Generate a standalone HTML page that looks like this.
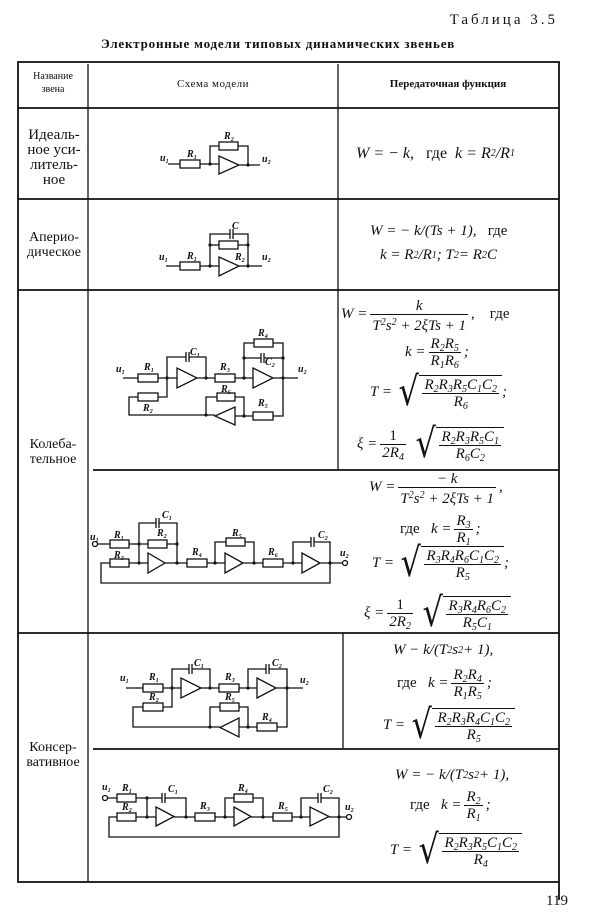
<!DOCTYPE html>
<html><head><meta charset="utf-8"><style>
body{margin:0;background:#fff;}
#p{position:relative;width:600px;height:924px;overflow:hidden;font-family:"Liberation Serif",serif;color:#111;}
.t{position:absolute;white-space:nowrap;}
.c{text-align:center;transform:translateX(-50%);}
.fm{position:absolute;height:33px;display:flex;align-items:center;white-space:nowrap;font-size:15px;font-style:italic;}
.fr{display:inline-flex;flex-direction:column;text-align:center;vertical-align:middle;margin:0 3px;}
.fr>span{line-height:16px;height:16px;padding:0 2px;}
.fr>.n{border-bottom:1px solid #111;}
.up{font-style:normal;}
.sq{font-style:normal;font-size:40px;line-height:33px;transform:scaleX(0.8);display:inline-block;margin:0 -2px 0 4px;font-family:"DejaVu Serif",serif;}
.rad{border-top:1px solid #111;padding-top:1px;display:inline-flex;}
sub{font-size:10px;vertical-align:-3px;}
sup{font-size:10px;vertical-align:5px;}
svg text{font-family:"Liberation Serif",serif;font-style:italic;font-weight:bold;font-size:10px;}
</style></head><body><div id="p">
<div class="t" style="right:42px;top:12px;font-size:15px;letter-spacing:3px;">Таблица 3.5</div>
<div class="t c" style="left:278px;top:36px;font-size:13px;font-weight:bold;letter-spacing:0.8px;">Электронные модели типовых динамических звеньев</div>

<div class="t c" style="left:53px;top:70px;font-size:10px;line-height:13px;">Название<br>звена</div>
<div class="t c" style="left:213px;top:78px;font-size:11px;letter-spacing:0.5px;">Схема модели</div>
<div class="t c" style="left:448px;top:78px;font-size:11px;font-weight:bold;">Передаточная функция</div>

<div class="t c" style="left:54px;top:128px;font-size:15px;line-height:15px;">Идеаль-<br>ное уси-<br>литель-<br>ное</div>
<div class="t c" style="left:54px;top:230px;font-size:14px;line-height:15px;">Апериo-<br>дическое</div>
<div class="t c" style="left:53px;top:437px;font-size:14px;line-height:15px;">Колеба-<br>тельное</div>
<div class="t c" style="left:53px;top:740px;font-size:14px;line-height:15px;">Консер-<br>вативное</div>
<div class="t" style="left:546px;top:893px;font-size:15px;">119</div>

<svg width="600" height="924" style="position:absolute;left:0;top:0" fill="none" stroke="#111" stroke-width="1.3">
<g stroke-width="1.8">
<rect x="18" y="62" width="541" height="820"/>
<line x1="18" y1="108" x2="559" y2="108"/>
<line x1="18" y1="199" x2="559" y2="199"/>
<line x1="18" y1="290" x2="559" y2="290"/>
<line x1="93" y1="470" x2="559" y2="470"/>
<line x1="18" y1="633" x2="559" y2="633"/>
<line x1="93" y1="749" x2="559" y2="749"/>
<line x1="559" y1="882" x2="559" y2="900"/>
</g>
<line x1="88" y1="64" x2="88" y2="882"/>
<line x1="338" y1="64" x2="338" y2="470"/>
<line x1="343" y1="633" x2="343" y2="748"/>

<path d="M168 164H180M200 164H219M239 165H260M210 164V146H219M238 146H248V165"/>
<rect x="180" y="160" width="20" height="8"/><rect x="219" y="142" width="19" height="8"/>
<polygon points="219,156 219,174 239,165"/>
<path d="M166 266H180M200 266H219M239 266H262M210 266V234H230M233 234H248V266M230 229V239M233 229V239M210 245H219M238 245H248"/>
<rect x="180" y="262" width="20" height="8"/><rect x="219" y="241" width="19" height="8"/>
<polygon points="219,257 219,276 239,266"/>
<path d="M123 378H138M158 378H177M197 378H215M235 378H253M273 378H298M167 378V357H186M189 357H206V378M186 352V362M189 352V362M244 378V343H254M273 343H283V378M244 358H261M264 358H283M261 353V363M264 353V363M167 378V397H158M138 397H129V415H215M206 415V397H217M235 397H244V416H235M244 416H253M273 416H283V378"/>
<rect x="138" y="374" width="20" height="8"/><rect x="215" y="374" width="20" height="8"/><rect x="254" y="339" width="19" height="8"/><rect x="138" y="393" width="20" height="8"/><rect x="217" y="393" width="18" height="8"/><rect x="253" y="412" width="20" height="8"/>
<polygon points="177,368 177,388 197,378"/><polygon points="253,368 253,388 273,378"/><polygon points="235,407 235,425 215,416"/>
<circle cx="95" cy="544" r="2.5"/><circle cx="345" cy="563" r="2.5"/>
<path d="M97.5 544H110M129 544H148M167 544H177V563M139 544V523H156M159 523H177V544M156 518V528M159 518V528M139 544V563H148M165 563H187M207 563H225M243 563H263M283 563H302M320 563H342.5M110 563H101V583H330V563M215 563V542H226M245 542H254V563M293 563V542H311M314 542H330V563M311 537V547M314 537V547M129 563H139"/>
<rect x="110" y="540" width="19" height="8"/><rect x="148" y="540" width="19" height="8"/><rect x="110" y="559" width="19" height="8"/><rect x="187" y="559" width="20" height="8"/><rect x="263" y="559" width="20" height="8"/><rect x="226" y="538" width="19" height="8"/>
<polygon points="148,553 148,573 165,563"/><polygon points="225,553 225,573 243,563"/><polygon points="302,553 302,573 320,563"/>
<path d="M126 688H143M163 688H181M201 688H219M239 688H257M276 688H303M172 688V669H189M192 669H210V688M189 664V674M192 664V674M248 688V669H266M269 669H287V688M266 664V674M269 664V674M172 688V707H163M143 707H133V727H220M210 727V707H220M239 707H248V727H239M248 727H257M277 727H287V688"/>
<rect x="143" y="684" width="20" height="8"/><rect x="219" y="684" width="20" height="8"/><rect x="143" y="703" width="20" height="8"/><rect x="220" y="703" width="19" height="8"/><rect x="257" y="723" width="20" height="8"/>
<polygon points="181,678 181,698 201,688"/><polygon points="257,678 257,698 276,688"/><polygon points="239,718 239,737 220,727.5"/>
<circle cx="105" cy="798" r="2.5"/><circle cx="349" cy="817" r="2.5"/>
<path d="M107.5 798H117M136 798H162M165 798H186V817M162 793V803M165 793V803M147 798V817M339 817V837H109V817H117M136 817H156M174 817H195M215 817H234M251 817H273M292 817H310M329 817H346.5M225 817V798H234M253 798H263V817M301 817V798H318M321 798H339V817M318 793V803M321 793V803"/>
<rect x="117" y="794" width="19" height="8"/><rect x="117" y="813" width="19" height="8"/><rect x="195" y="813" width="20" height="8"/><rect x="234" y="794" width="19" height="8"/><rect x="273" y="813" width="19" height="8"/>
<polygon points="156,807 156,826 174,816.5"/><polygon points="234,807 234,826 251,816.5"/><polygon points="310,807 310,826 329,816.5"/>
<g fill="#111" stroke="none">
<circle cx="210" cy="164" r="1.6"/><circle cx="248" cy="165" r="1.6"/><circle cx="210" cy="266" r="1.6"/><circle cx="248" cy="266" r="1.6"/><circle cx="210" cy="245" r="1.6"/><circle cx="248" cy="245" r="1.6"/>
<circle cx="167" cy="378" r="1.6"/><circle cx="206" cy="378" r="1.6"/><circle cx="244" cy="378" r="1.6"/><circle cx="283" cy="378" r="1.6"/><circle cx="206" cy="415" r="1.6"/><circle cx="244" cy="416" r="1.6"/><circle cx="244" cy="358" r="1.6"/><circle cx="283" cy="358" r="1.6"/>
<circle cx="139" cy="544" r="1.6"/><circle cx="139" cy="563" r="1.6"/><circle cx="177" cy="563" r="1.6"/><circle cx="177" cy="544" r="1.6"/><circle cx="215" cy="563" r="1.6"/><circle cx="254" cy="563" r="1.6"/><circle cx="293" cy="563" r="1.6"/><circle cx="330" cy="563" r="1.6"/>
<circle cx="172" cy="688" r="1.6"/><circle cx="210" cy="688" r="1.6"/><circle cx="248" cy="688" r="1.6"/><circle cx="287" cy="688" r="1.6"/><circle cx="210" cy="727" r="1.6"/><circle cx="248" cy="727" r="1.6"/>
<circle cx="147" cy="798" r="1.6"/><circle cx="147" cy="817" r="1.6"/><circle cx="186" cy="817" r="1.6"/><circle cx="225" cy="817" r="1.6"/><circle cx="263" cy="817" r="1.6"/><circle cx="301" cy="817" r="1.6"/><circle cx="339" cy="817" r="1.6"/>
<text x="160" y="161">u₁</text><text x="187" y="157">R₁</text><text x="224" y="139">R₂</text><text x="262" y="162">u₂</text>
<text x="159" y="260">u₁</text><text x="187" y="259">R₁</text><text x="232" y="229">C</text><text x="235" y="260">R₂</text><text x="262" y="260">u₂</text>
<text x="116" y="372" font-size="11">u₁</text><text x="144" y="370">R₁</text><text x="190" y="355">C₁</text><text x="220" y="370">R₃</text><text x="258" y="336">R₄</text><text x="265" y="365">C₂</text><text x="298" y="372" font-size="11">u₂</text><text x="143" y="411">R₂</text><text x="221" y="392">R₆</text><text x="258" y="406">R₅</text>
<text x="90" y="540" font-size="11">u₁</text><text x="114" y="538">R₁</text><text x="114" y="558">R₃</text><text x="157" y="536">R₂</text><text x="162" y="518">C₁</text><text x="192" y="555">R₄</text><text x="232" y="536">R₅</text><text x="268" y="555">R₆</text><text x="318" y="538">C₂</text><text x="340" y="556" font-size="11">u₂</text>
<text x="120" y="681">u₁</text><text x="149" y="680">R₁</text><text x="194" y="666">C₁</text><text x="225" y="680">R₃</text><text x="272" y="666">C₂</text><text x="300" y="683">u₂</text><text x="149" y="700">R₂</text><text x="225" y="700">R₅</text><text x="262" y="720">R₄</text>
<text x="102" y="790">u₁</text><text x="122" y="791">R₁</text><text x="122" y="810">R₂</text><text x="168" y="792">C₁</text><text x="200" y="809">R₃</text><text x="238" y="791">R₄</text><text x="278" y="809">R₅</text><text x="323" y="792">C₂</text><text x="345" y="810">u₂</text>
</g>
</svg>

<div class="fm" style="left:356px;top:137px;font-size:16px;">W = − k,&nbsp;&nbsp; <span class="up">&nbsp;где&nbsp;&nbsp;</span> k = R<sub>2</sub>/R<sub>1</sub></div>
<div class="fm" style="left:370px;top:215px;">W = − k/(Ts + 1),<span class="up">&nbsp;&nbsp; где</span></div>
<div class="fm" style="left:380px;top:239px;">k = R<sub>2</sub>/R<sub>1</sub>; T<sub>2</sub> = R<sub>2</sub>C</div>

<div class="fm" style="left:341px;top:298px;">W =<span class="fr"><span class="n">k</span><span>T<sup>2</sup>s<sup>2</sup> + 2ξTs + 1</span></span>,<span class="up">&nbsp;&nbsp;&nbsp; где</span></div>
<div class="fm" style="left:405px;top:336px;">k =<span class="fr"><span class="n">R<sub>2</sub>R<sub>5</sub></span><span>R<sub>1</sub>R<sub>6</sub></span></span>;</div>
<div class="fm" style="left:370px;top:376px;">T =<span class="sq">√</span><span class="rad"><span class="fr"><span class="n">R<sub>2</sub>R<sub>3</sub>R<sub>5</sub>C<sub>1</sub>C<sub>2</sub></span><span>R<sub>6</sub></span></span></span>;</div>
<div class="fm" style="left:357px;top:428px;">ξ =<span class="fr"><span class="n up">1</span><span>2R<sub>4</sub></span></span><span class="sq">√</span><span class="rad"><span class="fr"><span class="n">R<sub>2</sub>R<sub>3</sub>R<sub>5</sub>C<sub>1</sub></span><span>R<sub>6</sub>C<sub>2</sub></span></span></span></div>

<div class="fm" style="left:369px;top:471px;">W =<span class="fr"><span class="n">− k</span><span>T<sup>2</sup>s<sup>2</sup> + 2ξTs + 1</span></span>,</div>
<div class="fm" style="left:400px;top:513px;"><span class="up">где&nbsp;&nbsp;&nbsp;</span>k =<span class="fr"><span class="n">R<sub>3</sub></span><span>R<sub>1</sub></span></span>;</div>
<div class="fm" style="left:372px;top:547px;">T =<span class="sq">√</span><span class="rad"><span class="fr"><span class="n">R<sub>3</sub>R<sub>4</sub>R<sub>6</sub>C<sub>1</sub>C<sub>2</sub></span><span>R<sub>5</sub></span></span></span>;</div>
<div class="fm" style="left:364px;top:597px;">ξ =<span class="fr"><span class="n up">1</span><span>2R<sub>2</sub></span></span><span class="sq">√</span><span class="rad"><span class="fr"><span class="n">R<sub>3</sub>R<sub>4</sub>R<sub>6</sub>C<sub>2</sub></span><span>R<sub>5</sub>C<sub>1</sub></span></span></span></div>

<div class="fm" style="left:393px;top:634px;">W − k/(T<sup>2</sup>s<sup>2</sup> + 1),</div>
<div class="fm" style="left:397px;top:667px;"><span class="up">где&nbsp;&nbsp;&nbsp;</span>k =<span class="fr"><span class="n">R<sub>2</sub>R<sub>4</sub></span><span>R<sub>1</sub>R<sub>5</sub></span></span>;</div>
<div class="fm" style="left:383px;top:709px;">T =<span class="sq">√</span><span class="rad"><span class="fr"><span class="n">R<sub>2</sub>R<sub>3</sub>R<sub>4</sub>C<sub>1</sub>C<sub>2</sub></span><span>R<sub>5</sub></span></span></span></div>

<div class="fm" style="left:395px;top:759px;">W = − k/(T<sup>2</sup>s<sup>2</sup> + 1),</div>
<div class="fm" style="left:410px;top:789px;"><span class="up">где&nbsp;&nbsp;&nbsp;</span>k =<span class="fr"><span class="n">R<sub>2</sub></span><span>R<sub>1</sub></span></span>;</div>
<div class="fm" style="left:390px;top:834px;">T =<span class="sq">√</span><span class="rad"><span class="fr"><span class="n">R<sub>2</sub>R<sub>3</sub>R<sub>5</sub>C<sub>1</sub>C<sub>2</sub></span><span>R<sub>4</sub></span></span></span></div>
</div></body></html>
